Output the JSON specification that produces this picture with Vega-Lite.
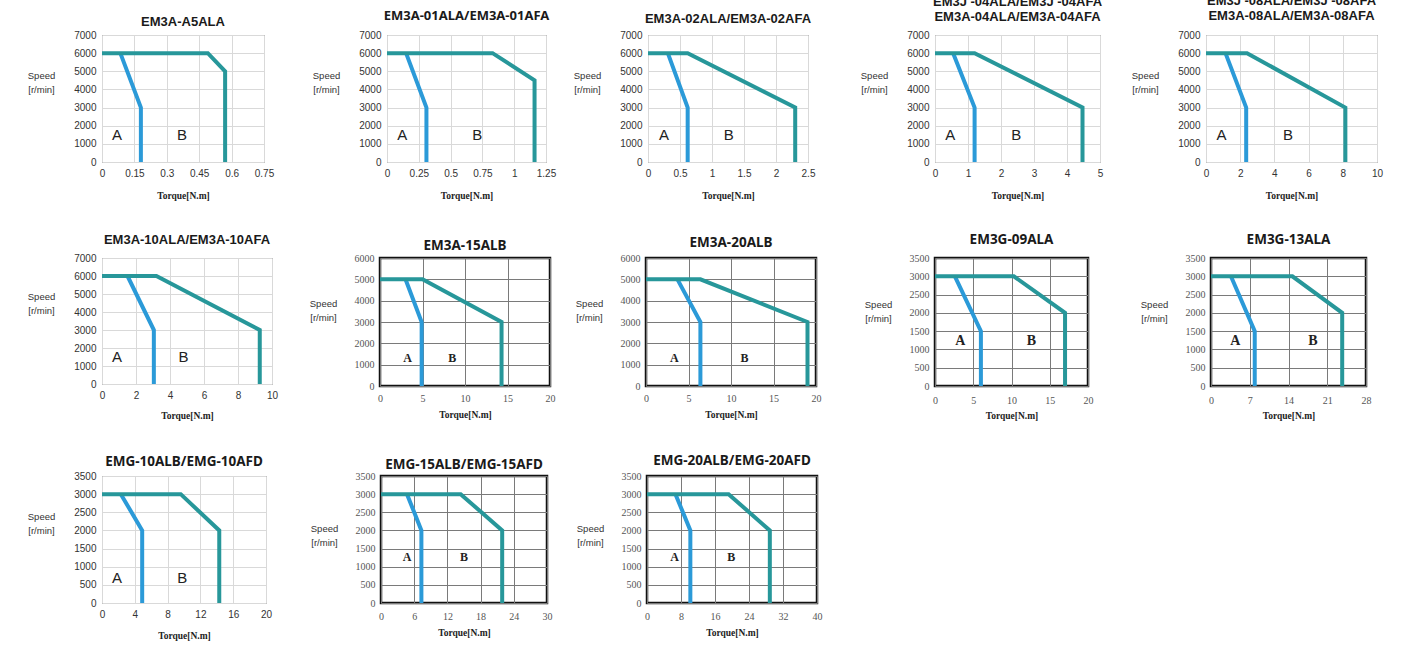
{
"$schema": "https://vega.github.io/schema/vega-lite/v6.json",
"padding": {"left": 26, "top": -6, "right": 5, "bottom": 5},
"background": "white",
"datasets": {
"curves": [
{"p":1,"s":"A","i":1,"t":0.085,"v":6000},{"p":1,"s":"A","i":2,"t":0.18,"v":3000},{"p":1,"s":"A","i":3,"t":0.18,"v":0},
{"p":1,"s":"B","i":1,"t":0,"v":6000},{"p":1,"s":"B","i":2,"t":0.49,"v":6000},{"p":1,"s":"B","i":3,"t":0.57,"v":5000},{"p":1,"s":"B","i":4,"t":0.57,"v":0},
{"p":2,"s":"A","i":1,"t":0.15,"v":6000},{"p":2,"s":"A","i":2,"t":0.31,"v":3000},{"p":2,"s":"A","i":3,"t":0.31,"v":0},
{"p":2,"s":"B","i":1,"t":0,"v":6000},{"p":2,"s":"B","i":2,"t":0.83,"v":6000},{"p":2,"s":"B","i":3,"t":1.16,"v":4500},{"p":2,"s":"B","i":4,"t":1.16,"v":0},
{"p":3,"s":"A","i":1,"t":0.31,"v":6000},{"p":3,"s":"A","i":2,"t":0.62,"v":3000},{"p":3,"s":"A","i":3,"t":0.62,"v":0},
{"p":3,"s":"B","i":1,"t":0,"v":6000},{"p":3,"s":"B","i":2,"t":0.62,"v":6000},{"p":3,"s":"B","i":3,"t":2.3,"v":3000},{"p":3,"s":"B","i":4,"t":2.3,"v":0},
{"p":4,"s":"A","i":1,"t":0.55,"v":6000},{"p":4,"s":"A","i":2,"t":1.2,"v":3000},{"p":4,"s":"A","i":3,"t":1.2,"v":0},
{"p":4,"s":"B","i":1,"t":0,"v":6000},{"p":4,"s":"B","i":2,"t":1.2,"v":6000},{"p":4,"s":"B","i":3,"t":4.47,"v":3000},{"p":4,"s":"B","i":4,"t":4.47,"v":0},
{"p":5,"s":"A","i":1,"t":1.14,"v":6000},{"p":5,"s":"A","i":2,"t":2.35,"v":3000},{"p":5,"s":"A","i":3,"t":2.35,"v":0},
{"p":5,"s":"B","i":1,"t":0,"v":6000},{"p":5,"s":"B","i":2,"t":2.4,"v":6000},{"p":5,"s":"B","i":3,"t":8.15,"v":3000},{"p":5,"s":"B","i":4,"t":8.15,"v":0},
{"p":6,"s":"A","i":1,"t":1.5,"v":6000},{"p":6,"s":"A","i":2,"t":3.05,"v":3000},{"p":6,"s":"A","i":3,"t":3.05,"v":0},
{"p":6,"s":"B","i":1,"t":0,"v":6000},{"p":6,"s":"B","i":2,"t":3.2,"v":6000},{"p":6,"s":"B","i":3,"t":9.28,"v":3000},{"p":6,"s":"B","i":4,"t":9.28,"v":0},
{"p":7,"s":"A","i":1,"t":3.0,"v":5000},{"p":7,"s":"A","i":2,"t":4.9,"v":3000},{"p":7,"s":"A","i":3,"t":4.9,"v":0},
{"p":7,"s":"B","i":1,"t":0,"v":5000},{"p":7,"s":"B","i":2,"t":5.0,"v":5000},{"p":7,"s":"B","i":3,"t":14.3,"v":3000},{"p":7,"s":"B","i":4,"t":14.3,"v":0},
{"p":8,"s":"A","i":1,"t":3.7,"v":5000},{"p":8,"s":"A","i":2,"t":6.4,"v":3000},{"p":8,"s":"A","i":3,"t":6.4,"v":0},
{"p":8,"s":"B","i":1,"t":0,"v":5000},{"p":8,"s":"B","i":2,"t":6.4,"v":5000},{"p":8,"s":"B","i":3,"t":19.0,"v":3000},{"p":8,"s":"B","i":4,"t":19.0,"v":0},
{"p":9,"s":"A","i":1,"t":2.6,"v":3000},{"p":9,"s":"A","i":2,"t":6.0,"v":1500},{"p":9,"s":"A","i":3,"t":6.0,"v":0},
{"p":9,"s":"B","i":1,"t":0,"v":3000},{"p":9,"s":"B","i":2,"t":10.3,"v":3000},{"p":9,"s":"B","i":3,"t":17.0,"v":2000},{"p":9,"s":"B","i":4,"t":17.0,"v":0},
{"p":10,"s":"A","i":1,"t":3.6,"v":3000},{"p":10,"s":"A","i":2,"t":7.9,"v":1500},{"p":10,"s":"A","i":3,"t":7.9,"v":0},
{"p":10,"s":"B","i":1,"t":0,"v":3000},{"p":10,"s":"B","i":2,"t":14.7,"v":3000},{"p":10,"s":"B","i":3,"t":23.7,"v":2000},{"p":10,"s":"B","i":4,"t":23.7,"v":0},
{"p":11,"s":"A","i":1,"t":2.3,"v":3000},{"p":11,"s":"A","i":2,"t":4.9,"v":2000},{"p":11,"s":"A","i":3,"t":4.9,"v":0},
{"p":11,"s":"B","i":1,"t":0,"v":3000},{"p":11,"s":"B","i":2,"t":9.6,"v":3000},{"p":11,"s":"B","i":3,"t":14.3,"v":2000},{"p":11,"s":"B","i":4,"t":14.3,"v":0},
{"p":12,"s":"A","i":1,"t":4.7,"v":3000},{"p":12,"s":"A","i":2,"t":7.3,"v":2000},{"p":12,"s":"A","i":3,"t":7.3,"v":0},
{"p":12,"s":"B","i":1,"t":0,"v":3000},{"p":12,"s":"B","i":2,"t":14.4,"v":3000},{"p":12,"s":"B","i":3,"t":21.9,"v":2000},{"p":12,"s":"B","i":4,"t":21.9,"v":0},
{"p":13,"s":"A","i":1,"t":6.7,"v":3000},{"p":13,"s":"A","i":2,"t":10.2,"v":2000},{"p":13,"s":"A","i":3,"t":10.2,"v":0},
{"p":13,"s":"B","i":1,"t":0,"v":3000},{"p":13,"s":"B","i":2,"t":19.2,"v":3000},{"p":13,"s":"B","i":3,"t":28.9,"v":2000},{"p":13,"s":"B","i":4,"t":28.9,"v":0}
],
"labels": [
{"p":1,"s":"A","t":0.07,"v":1500},{"p":1,"s":"B","t":0.37,"v":1500},
{"p":2,"s":"A","t":0.12,"v":1500},{"p":2,"s":"B","t":0.71,"v":1500},
{"p":3,"s":"A","t":0.25,"v":1500},{"p":3,"s":"B","t":1.26,"v":1500},
{"p":4,"s":"A","t":0.46,"v":1500},{"p":4,"s":"B","t":2.46,"v":1500},
{"p":5,"s":"A","t":0.9,"v":1500},{"p":5,"s":"B","t":4.8,"v":1500},
{"p":6,"s":"A","t":0.88,"v":1500},{"p":6,"s":"B","t":4.8,"v":1500},
{"p":7,"s":"A","t":3.24,"v":1300},{"p":7,"s":"B","t":8.5,"v":1300},
{"p":8,"s":"A","t":3.33,"v":1300},{"p":8,"s":"B","t":11.6,"v":1300},
{"p":9,"s":"A","t":3.3,"v":1230},{"p":9,"s":"B","t":12.6,"v":1230},
{"p":10,"s":"A","t":4.4,"v":1230},{"p":10,"s":"B","t":18.4,"v":1230},
{"p":11,"s":"A","t":1.84,"v":700},{"p":11,"s":"B","t":9.8,"v":700},
{"p":12,"s":"A","t":4.7,"v":1270},{"p":12,"s":"B","t":15.0,"v":1270},
{"p":13,"s":"A","t":6.5,"v":1255},{"p":13,"s":"B","t":19.8,"v":1255}
]
},
"config": {
"view": {"stroke": null},
"axis": {"domain": false, "ticks": false, "tickSize": 0, "grid": true, "gridWidth": 1, "labelFlush": false, "labelOverlap": false, "labelBound": false, "labelExpr": "'' + datum.value", "titleFont": "Liberation Serif", "titleFontWeight": "bold", "titleFontSize": 9.5, "titleColor": "#222222"},
"axisX": {"labelPadding": 6, "titleBaseline": "middle", "titleAlign": "center"},
"axisY": {"labelPadding": 6, "titleAngle": 0, "titleAlign": "center", "titleBaseline": "top", "titleLineHeight": 14, "titleFont": "Liberation Sans", "titleFontWeight": "normal", "titleFontSize": 9.5, "titleColor": "#333333"},
"title": {"anchor": "middle", "fontWeight": "bold", "color": "#1a1a1a", "baseline": "bottom", "lineHeight": 15}
},
"spacing": 31,
"vconcat": [
{"bounds": "flush", "spacing": 0, "hconcat": [
{"width":162,"height":127,"view":{"stroke":"#5a5a5a","strokeWidth":1},
 "title":{"text":"EM3A-A5ALA","font":"Liberation Sans","fontSize":13,"offset":1},
 "encoding":{
  "x":{"field":"t","type":"quantitative","scale":{"domain":[0,0.75],"nice":false,"zero":false},"axis":{"values":[0,0.15,0.3,0.45,0.6,0.75],"labelExpr":"'' + datum.value","title":"Torque[N.m]","gridColor":"#d9d9d9","labelFont":"Liberation Sans","labelFontSize":10,"labelColor":"#333333","titleY":33}},
  "y":{"field":"v","type":"quantitative","scale":{"domain":[0,7000],"nice":false},"axis":{"values":[0,1000,2000,3000,4000,5000,6000,7000],"labelExpr":"'' + datum.value","title":["Speed","[r/min]"],"gridColor":"#d9d9d9","labelFont":"Liberation Sans","labelFontSize":10,"labelColor":"#333333","titleX":-61,"titleY":35}}},
 "layer":[
  {"data":{"name":"curves"},"transform":[{"filter":"datum.p == 1"}],"mark":{"type":"line","strokeWidth":4},"encoding":{"color":{"field":"s","type":"nominal","scale":{"domain":["A","B"],"range":["#2b9ad8","#27979a"]},"legend":null},"order":{"field":"i","type":"quantitative"}}},
  {"data":{"name":"labels"},"transform":[{"filter":"datum.p == 1"}],"mark":{"type":"text","font":"Liberation Sans","fontSize":15,"color":"#222222","baseline":"middle","align":"center"},"encoding":{"text":{"field":"s"}}}
 ]},
{"width":123,"height":1,"data":{"values":[{}]},"mark":{"type":"point","opacity":0}},
{"width":159,"height":127,"view":{"stroke":"#5a5a5a","strokeWidth":1},
 "title":{"text":"EM3A-01ALA/EM3A-01AFA","font":"Noto Sans","fontSize":13,"offset":7},
 "encoding":{
  "x":{"field":"t","type":"quantitative","scale":{"domain":[0,1.25],"nice":false,"zero":false},"axis":{"values":[0,0.25,0.5,0.75,1,1.25],"labelExpr":"'' + datum.value","title":"Torque[N.m]","gridColor":"#d9d9d9","labelFont":"Liberation Sans","labelFontSize":10,"labelColor":"#333333","titleY":33}},
  "y":{"field":"v","type":"quantitative","scale":{"domain":[0,7000],"nice":false},"axis":{"values":[0,1000,2000,3000,4000,5000,6000,7000],"labelExpr":"'' + datum.value","title":["Speed","[r/min]"],"gridColor":"#d9d9d9","labelFont":"Liberation Sans","labelFontSize":10,"labelColor":"#333333","titleX":-61,"titleY":35}}},
 "layer":[
  {"data":{"name":"curves"},"transform":[{"filter":"datum.p == 2"}],"mark":{"type":"line","strokeWidth":4},"encoding":{"color":{"field":"s","type":"nominal","scale":{"domain":["A","B"],"range":["#2b9ad8","#27979a"]},"legend":null},"order":{"field":"i","type":"quantitative"}}},
  {"data":{"name":"labels"},"transform":[{"filter":"datum.p == 2"}],"mark":{"type":"text","font":"Liberation Sans","fontSize":15,"color":"#222222","baseline":"middle","align":"center"},"encoding":{"text":{"field":"s"}}}
 ]},
{"width":102,"height":1,"data":{"values":[{}]},"mark":{"type":"point","opacity":0}},
{"width":160,"height":127,"view":{"stroke":"#5a5a5a","strokeWidth":1},
 "title":{"text":"EM3A-02ALA/EM3A-02AFA","font":"Liberation Sans","fontSize":13,"offset":4},
 "encoding":{
  "x":{"field":"t","type":"quantitative","scale":{"domain":[0,2.5],"nice":false,"zero":false},"axis":{"values":[0,0.5,1,1.5,2,2.5],"labelExpr":"'' + datum.value","title":"Torque[N.m]","gridColor":"#d9d9d9","labelFont":"Liberation Sans","labelFontSize":10,"labelColor":"#333333","titleY":33}},
  "y":{"field":"v","type":"quantitative","scale":{"domain":[0,7000],"nice":false},"axis":{"values":[0,1000,2000,3000,4000,5000,6000,7000],"labelExpr":"'' + datum.value","title":["Speed","[r/min]"],"gridColor":"#d9d9d9","labelFont":"Liberation Sans","labelFontSize":10,"labelColor":"#333333","titleX":-61,"titleY":35}}},
 "layer":[
  {"data":{"name":"curves"},"transform":[{"filter":"datum.p == 3"}],"mark":{"type":"line","strokeWidth":4},"encoding":{"color":{"field":"s","type":"nominal","scale":{"domain":["A","B"],"range":["#2b9ad8","#27979a"]},"legend":null},"order":{"field":"i","type":"quantitative"}}},
  {"data":{"name":"labels"},"transform":[{"filter":"datum.p == 3"}],"mark":{"type":"text","font":"Liberation Sans","fontSize":15,"color":"#222222","baseline":"middle","align":"center"},"encoding":{"text":{"field":"s"}}}
 ]},
{"width":127,"height":1,"data":{"values":[{}]},"mark":{"type":"point","opacity":0}},
{"width":165,"height":127,"view":{"stroke":"#5a5a5a","strokeWidth":1},
 "title":{"text":["EM3J -04ALA/EM3J -04AFA","EM3A-04ALA/EM3A-04AFA"],"font":"Liberation Sans","fontSize":13,"offset":6},
 "encoding":{
  "x":{"field":"t","type":"quantitative","scale":{"domain":[0,5],"nice":false,"zero":false},"axis":{"values":[0,1,2,3,4,5],"labelExpr":"'' + datum.value","title":"Torque[N.m]","gridColor":"#d9d9d9","labelFont":"Liberation Sans","labelFontSize":10,"labelColor":"#333333","titleY":33}},
  "y":{"field":"v","type":"quantitative","scale":{"domain":[0,7000],"nice":false},"axis":{"values":[0,1000,2000,3000,4000,5000,6000,7000],"labelExpr":"'' + datum.value","title":["Speed","[r/min]"],"gridColor":"#d9d9d9","labelFont":"Liberation Sans","labelFontSize":10,"labelColor":"#333333","titleX":-61,"titleY":35}}},
 "layer":[
  {"data":{"name":"curves"},"transform":[{"filter":"datum.p == 4"}],"mark":{"type":"line","strokeWidth":4},"encoding":{"color":{"field":"s","type":"nominal","scale":{"domain":["A","B"],"range":["#2b9ad8","#27979a"]},"legend":null},"order":{"field":"i","type":"quantitative"}}},
  {"data":{"name":"labels"},"transform":[{"filter":"datum.p == 4"}],"mark":{"type":"text","font":"Liberation Sans","fontSize":15,"color":"#222222","baseline":"middle","align":"center"},"encoding":{"text":{"field":"s"}}}
 ]},
{"width":106,"height":1,"data":{"values":[{}]},"mark":{"type":"point","opacity":0}},
{"width":171,"height":127,"view":{"stroke":"#5a5a5a","strokeWidth":1},
 "title":{"text":["EM3J -08ALA/EM3J -08AFA","EM3A-08ALA/EM3A-08AFA"],"font":"Liberation Sans","fontSize":13,"offset":7},
 "encoding":{
  "x":{"field":"t","type":"quantitative","scale":{"domain":[0,10],"nice":false,"zero":false},"axis":{"values":[0,2,4,6,8,10],"labelExpr":"'' + datum.value","title":"Torque[N.m]","gridColor":"#d9d9d9","labelFont":"Liberation Sans","labelFontSize":10,"labelColor":"#333333","titleY":33}},
  "y":{"field":"v","type":"quantitative","scale":{"domain":[0,7000],"nice":false},"axis":{"values":[0,1000,2000,3000,4000,5000,6000,7000],"labelExpr":"'' + datum.value","title":["Speed","[r/min]"],"gridColor":"#d9d9d9","labelFont":"Liberation Sans","labelFontSize":10,"labelColor":"#333333","titleX":-61,"titleY":35}}},
 "layer":[
  {"data":{"name":"curves"},"transform":[{"filter":"datum.p == 5"}],"mark":{"type":"line","strokeWidth":4},"encoding":{"color":{"field":"s","type":"nominal","scale":{"domain":["A","B"],"range":["#2b9ad8","#27979a"]},"legend":null},"order":{"field":"i","type":"quantitative"}}},
  {"data":{"name":"labels"},"transform":[{"filter":"datum.p == 5"}],"mark":{"type":"text","font":"Liberation Sans","fontSize":15,"color":"#222222","baseline":"middle","align":"center"},"encoding":{"text":{"field":"s"}}}
 ]}
]},
{"bounds": "flush", "spacing": 0, "hconcat": [
{"width":170,"height":126,"view":{"stroke":"#5a5a5a","strokeWidth":1},
 "title":{"text":"EM3A-10ALA/EM3A-10AFA","font":"Liberation Sans","fontSize":13,"offset":6},
 "encoding":{
  "x":{"field":"t","type":"quantitative","scale":{"domain":[0,10],"nice":false,"zero":false},"axis":{"values":[0,2,4,6,8,10],"labelExpr":"'' + datum.value","title":"Torque[N.m]","gridColor":"#d9d9d9","labelFont":"Liberation Sans","labelFontSize":10,"labelColor":"#333333","titleY":31}},
  "y":{"field":"v","type":"quantitative","scale":{"domain":[0,7000],"nice":false},"axis":{"values":[0,1000,2000,3000,4000,5000,6000,7000],"labelExpr":"'' + datum.value","title":["Speed","[r/min]"],"gridColor":"#d9d9d9","labelFont":"Liberation Sans","labelFontSize":10,"labelColor":"#333333","titleX":-61,"titleY":33}}},
 "layer":[
  {"data":{"name":"curves"},"transform":[{"filter":"datum.p == 6"}],"mark":{"type":"line","strokeWidth":4},"encoding":{"color":{"field":"s","type":"nominal","scale":{"domain":["A","B"],"range":["#2b9ad8","#27979a"]},"legend":null},"order":{"field":"i","type":"quantitative"}}},
  {"data":{"name":"labels"},"transform":[{"filter":"datum.p == 6"}],"mark":{"type":"text","font":"Liberation Sans","fontSize":15,"color":"#222222","baseline":"middle","align":"center"},"encoding":{"text":{"field":"s"}}}
 ]},
{"width":108,"height":1,"data":{"values":[{}]},"mark":{"type":"point","opacity":0}},
{"width":170,"height":128,"view":{"stroke":"#111111","strokeWidth":2.5},
 "title":{"text":"EM3A-15ALB","font":"Noto Sans","fontSize":13.5,"offset":1},
 "encoding":{
  "x":{"field":"t","type":"quantitative","scale":{"domain":[0,20],"nice":false,"zero":false},"axis":{"values":[0,5,10,15,20],"labelExpr":"'' + datum.value","title":"Torque[N.m]","gridColor":"#7a7a7a","labelFont":"Liberation Serif","labelFontSize":10,"labelColor":"#555555","labelPadding":7,"titleY":28}},
  "y":{"field":"v","type":"quantitative","scale":{"domain":[0,6000],"nice":false},"axis":{"values":[0,1000,2000,3000,4000,5000,6000],"labelExpr":"'' + datum.value","title":["Speed","[r/min]"],"gridColor":"#7a7a7a","labelFont":"Liberation Serif","labelFontSize":10,"labelColor":"#555555","titleX":-57,"titleY":40}}},
 "layer":[
  {"data":{"name":"curves"},"transform":[{"filter":"datum.p == 7"}],"mark":{"type":"line","strokeWidth":4},"encoding":{"color":{"field":"s","type":"nominal","scale":{"domain":["A","B"],"range":["#2b9ad8","#27979a"]},"legend":null},"order":{"field":"i","type":"quantitative"}}},
  {"data":{"name":"labels"},"transform":[{"filter":"datum.p == 7"}],"mark":{"type":"text","font":"Liberation Serif","fontWeight":"bold","fontSize":12,"color":"#222222","baseline":"middle","align":"center"},"encoding":{"text":{"field":"s"}}}
 ]},
{"width":96,"height":1,"data":{"values":[{}]},"mark":{"type":"point","opacity":0}},
{"width":170,"height":128,"view":{"stroke":"#111111","strokeWidth":2.5},
 "title":{"text":"EM3A-20ALB","font":"Noto Sans","fontSize":13.5,"offset":4},
 "encoding":{
  "x":{"field":"t","type":"quantitative","scale":{"domain":[0,20],"nice":false,"zero":false},"axis":{"values":[0,5,10,15,20],"labelExpr":"'' + datum.value","title":"Torque[N.m]","gridColor":"#7a7a7a","labelFont":"Liberation Serif","labelFontSize":10,"labelColor":"#555555","labelPadding":7,"titleY":28}},
  "y":{"field":"v","type":"quantitative","scale":{"domain":[0,6000],"nice":false},"axis":{"values":[0,1000,2000,3000,4000,5000,6000],"labelExpr":"'' + datum.value","title":["Speed","[r/min]"],"gridColor":"#7a7a7a","labelFont":"Liberation Serif","labelFontSize":10,"labelColor":"#555555","titleX":-57,"titleY":40}}},
 "layer":[
  {"data":{"name":"curves"},"transform":[{"filter":"datum.p == 8"}],"mark":{"type":"line","strokeWidth":4},"encoding":{"color":{"field":"s","type":"nominal","scale":{"domain":["A","B"],"range":["#2b9ad8","#27979a"]},"legend":null},"order":{"field":"i","type":"quantitative"}}},
  {"data":{"name":"labels"},"transform":[{"filter":"datum.p == 8"}],"mark":{"type":"text","font":"Liberation Serif","fontWeight":"bold","fontSize":12,"color":"#222222","baseline":"middle","align":"center"},"encoding":{"text":{"field":"s"}}}
 ]},
{"width":119,"height":1,"data":{"values":[{}]},"mark":{"type":"point","opacity":0}},
{"width":153,"height":128,"view":{"stroke":"#111111","strokeWidth":2.5},
 "title":{"text":"EM3G-09ALA","font":"Noto Sans","fontSize":13.5,"offset":7},
 "encoding":{
  "x":{"field":"t","type":"quantitative","scale":{"domain":[0,20],"nice":false,"zero":false},"axis":{"values":[0,5,10,15,20],"labelExpr":"'' + datum.value","title":"Torque[N.m]","gridColor":"#7a7a7a","labelFont":"Liberation Serif","labelFontSize":10,"labelColor":"#555555","labelPadding":9,"titleY":29}},
  "y":{"field":"v","type":"quantitative","scale":{"domain":[0,3500],"nice":false},"axis":{"values":[0,500,1000,1500,2000,2500,3000,3500],"labelExpr":"'' + datum.value","title":["Speed","[r/min]"],"gridColor":"#7a7a7a","labelFont":"Liberation Serif","labelFontSize":10,"labelColor":"#555555","titleX":-57,"titleY":41}}},
 "layer":[
  {"data":{"name":"curves"},"transform":[{"filter":"datum.p == 9"}],"mark":{"type":"line","strokeWidth":4},"encoding":{"color":{"field":"s","type":"nominal","scale":{"domain":["A","B"],"range":["#2b9ad8","#27979a"]},"legend":null},"order":{"field":"i","type":"quantitative"}}},
  {"data":{"name":"labels"},"transform":[{"filter":"datum.p == 9"}],"mark":{"type":"text","font":"Liberation Serif","fontWeight":"bold","fontSize":14,"color":"#222222","baseline":"middle","align":"center"},"encoding":{"text":{"field":"s"}}}
 ]},
{"width":123,"height":1,"data":{"values":[{}]},"mark":{"type":"point","opacity":0}},
{"width":155,"height":128,"view":{"stroke":"#111111","strokeWidth":2.5},
 "title":{"text":"EM3G-13ALA","font":"Noto Sans","fontSize":13.5,"offset":7},
 "encoding":{
  "x":{"field":"t","type":"quantitative","scale":{"domain":[0,28],"nice":false,"zero":false},"axis":{"values":[0,7,14,21,28],"labelExpr":"'' + datum.value","title":"Torque[N.m]","gridColor":"#7a7a7a","labelFont":"Liberation Serif","labelFontSize":10,"labelColor":"#555555","labelPadding":9,"titleY":29}},
  "y":{"field":"v","type":"quantitative","scale":{"domain":[0,3500],"nice":false},"axis":{"values":[0,500,1000,1500,2000,2500,3000,3500],"labelExpr":"'' + datum.value","title":["Speed","[r/min]"],"gridColor":"#7a7a7a","labelFont":"Liberation Serif","labelFontSize":10,"labelColor":"#555555","titleX":-57,"titleY":41}}},
 "layer":[
  {"data":{"name":"curves"},"transform":[{"filter":"datum.p == 10"}],"mark":{"type":"line","strokeWidth":4},"encoding":{"color":{"field":"s","type":"nominal","scale":{"domain":["A","B"],"range":["#2b9ad8","#27979a"]},"legend":null},"order":{"field":"i","type":"quantitative"}}},
  {"data":{"name":"labels"},"transform":[{"filter":"datum.p == 10"}],"mark":{"type":"text","font":"Liberation Serif","fontWeight":"bold","fontSize":14,"color":"#222222","baseline":"middle","align":"center"},"encoding":{"text":{"field":"s"}}}
 ]}
]},
{"bounds": "flush", "spacing": 0, "hconcat": [
{"width":164,"height":127,"view":{"stroke":"#5a5a5a","strokeWidth":1},
 "title":{"text":"EMG-10ALB/EMG-10AFD","font":"Noto Sans","fontSize":13.5,"offset":3},
 "encoding":{
  "x":{"field":"t","type":"quantitative","scale":{"domain":[0,20],"nice":false,"zero":false},"axis":{"values":[0,4,8,12,16,20],"labelExpr":"'' + datum.value","title":"Torque[N.m]","gridColor":"#d9d9d9","labelFont":"Liberation Sans","labelFontSize":10,"labelColor":"#333333","titleY":32}},
  "y":{"field":"v","type":"quantitative","scale":{"domain":[0,3500],"nice":false},"axis":{"values":[0,500,1000,1500,2000,2500,3000,3500],"labelExpr":"'' + datum.value","title":["Speed","[r/min]"],"gridColor":"#d9d9d9","labelFont":"Liberation Sans","labelFontSize":10,"labelColor":"#333333","titleX":-61,"titleY":35}}},
 "layer":[
  {"data":{"name":"curves"},"transform":[{"filter":"datum.p == 11"}],"mark":{"type":"line","strokeWidth":4},"encoding":{"color":{"field":"s","type":"nominal","scale":{"domain":["A","B"],"range":["#2b9ad8","#27979a"]},"legend":null},"order":{"field":"i","type":"quantitative"}}},
  {"data":{"name":"labels"},"transform":[{"filter":"datum.p == 11"}],"mark":{"type":"text","font":"Liberation Sans","fontSize":15,"color":"#222222","baseline":"middle","align":"center"},"encoding":{"text":{"field":"s"}}}
 ]},
{"width":115,"height":1,"data":{"values":[{}]},"mark":{"type":"point","opacity":0}},
{"width":166,"height":127,"view":{"stroke":"#111111","strokeWidth":2.5},
 "title":{"text":"EMG-15ALB/EMG-15AFD","font":"Noto Sans","fontSize":13.5,"offset":0},
 "encoding":{
  "x":{"field":"t","type":"quantitative","scale":{"domain":[0,30],"nice":false,"zero":false},"axis":{"values":[0,6,12,18,24,30],"labelExpr":"'' + datum.value","title":"Torque[N.m]","gridColor":"#7a7a7a","labelFont":"Liberation Serif","labelFontSize":10,"labelColor":"#555555","labelPadding":8,"titleY":29}},
  "y":{"field":"v","type":"quantitative","scale":{"domain":[0,3500],"nice":false},"axis":{"values":[0,500,1000,1500,2000,2500,3000,3500],"labelExpr":"'' + datum.value","title":["Speed","[r/min]"],"gridColor":"#7a7a7a","labelFont":"Liberation Serif","labelFontSize":10,"labelColor":"#555555","titleX":-57,"titleY":47}}},
 "layer":[
  {"data":{"name":"curves"},"transform":[{"filter":"datum.p == 12"}],"mark":{"type":"line","strokeWidth":4},"encoding":{"color":{"field":"s","type":"nominal","scale":{"domain":["A","B"],"range":["#2b9ad8","#27979a"]},"legend":null},"order":{"field":"i","type":"quantitative"}}},
  {"data":{"name":"labels"},"transform":[{"filter":"datum.p == 12"}],"mark":{"type":"text","font":"Liberation Serif","fontWeight":"bold","fontSize":12,"color":"#222222","baseline":"middle","align":"center"},"encoding":{"text":{"field":"s"}}}
 ]},
{"width":100,"height":1,"data":{"values":[{}]},"mark":{"type":"point","opacity":0}},
{"width":170,"height":127,"view":{"stroke":"#111111","strokeWidth":2.5},
 "title":{"text":"EMG-20ALB/EMG-20AFD","font":"Noto Sans","fontSize":13.5,"offset":4},
 "encoding":{
  "x":{"field":"t","type":"quantitative","scale":{"domain":[0,40],"nice":false,"zero":false},"axis":{"values":[0,8,16,24,32,40],"labelExpr":"'' + datum.value","title":"Torque[N.m]","gridColor":"#7a7a7a","labelFont":"Liberation Serif","labelFontSize":10,"labelColor":"#555555","labelPadding":8,"titleY":29}},
  "y":{"field":"v","type":"quantitative","scale":{"domain":[0,3500],"nice":false},"axis":{"values":[0,500,1000,1500,2000,2500,3000,3500],"labelExpr":"'' + datum.value","title":["Speed","[r/min]"],"gridColor":"#7a7a7a","labelFont":"Liberation Serif","labelFontSize":10,"labelColor":"#555555","titleX":-57,"titleY":47}}},
 "layer":[
  {"data":{"name":"curves"},"transform":[{"filter":"datum.p == 13"}],"mark":{"type":"line","strokeWidth":4},"encoding":{"color":{"field":"s","type":"nominal","scale":{"domain":["A","B"],"range":["#2b9ad8","#27979a"]},"legend":null},"order":{"field":"i","type":"quantitative"}}},
  {"data":{"name":"labels"},"transform":[{"filter":"datum.p == 13"}],"mark":{"type":"text","font":"Liberation Serif","fontWeight":"bold","fontSize":12,"color":"#222222","baseline":"middle","align":"center"},"encoding":{"text":{"field":"s"}}}
 ]}
]}
]
}
